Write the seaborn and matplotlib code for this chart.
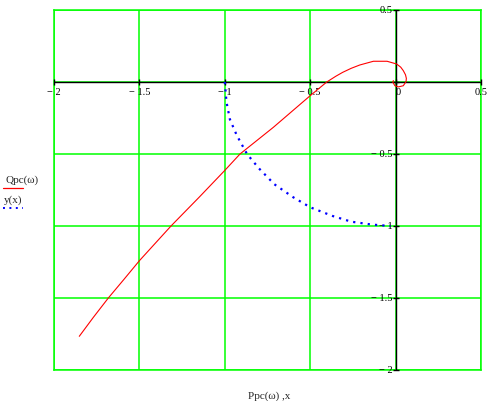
"""
Mathcad-style Nyquist plot: Qpc(w) vs Ppc(w) with the unit circle y(x).
"""

import matplotlib
matplotlib.use("Agg")
import matplotlib.pyplot as plt
import matplotlib.transforms as mtransforms
from matplotlib.lines import Line2D
import pandas as pd
import seaborn as sns

# Qpc(w) vs Ppc(w)
ppc = [-1.852, -1.77, -1.682, -1.59, -1.5, -1.315, -1.15, -1.0, -0.911,
       -0.716, -0.5, -0.403, -0.35, -0.31, -0.26, -0.21, -0.13, -0.05,
       0.006, 0.03, 0.045, 0.058, 0.063, 0.061, 0.045, 0.016, -0.004,
       -0.017, -0.013]
qpc = [-1.766, -1.635, -1.5, -1.37, -1.241, -1.0, -0.8, -0.614, -0.5,
       -0.315, -0.095, 0.0, 0.04, 0.067, 0.095, 0.118, 0.144, 0.144,
       0.125, 0.103, 0.079, 0.05, 0.025, 0.002, -0.026, -0.034, -0.026,
       0.0, 0.01]

# y(x), dotted blue quarter arc
circ_x = [-1.0, -0.99, -0.97, -0.93, -0.87, -0.8, -0.71, -0.6, -0.5,
          -0.37, -0.26, -0.14, -0.03]
circ_y = [0.0, -0.14, -0.26, -0.37, -0.5, -0.6, -0.71, -0.8, -0.87,
          -0.93, -0.97, -0.99, -1.0]

x_ticks = [-2.0, -1.5, -1.0, -0.5, 0.0, 0.5]
y_ticks = [0.5, 0.0, -0.5, -1.0, -1.5, -2.0]

GREEN = "#00ff00"
RED = "#ff0000"
BLUE = "#0000ff"
FONT = "Liberation Serif"


def fmt(v):
    """Mathcad-ish tick label."""
    if v == 0:
        return "0"
    s = f"{abs(v):g}"
    return f"\u2212 {s}" if v < 0 else s


sns.set_style("white")
plt.rcParams["font.family"] = [FONT, "DejaVu Sans"]

fig = plt.figure(figsize=(4.97, 4.02), dpi=100)
ax = fig.add_axes([54 / 497, (402 - 371) / 402, 427 / 497, 360 / 402])

df_q = pd.DataFrame({"P": ppc, "Q": qpc})
df_c = pd.DataFrame({"x": circ_x, "y": circ_y})

sns.lineplot(data=df_q, x="P", y="Q", sort=False, estimator=None,
             color=RED, lw=0.8, ax=ax, zorder=4)
sns.lineplot(data=df_c, x="x", y="y", sort=False, estimator=None,
             color=BLUE, lw=1.6, ax=ax, zorder=4)
ax.lines[-1].set_linestyle((0, (1, 2.3)))

ax.set_xlim(x_ticks[0], x_ticks[-1])
ax.set_ylim(y_ticks[-1], y_ticks[0])
ax.set_xticks(x_ticks)
ax.set_yticks(y_ticks)
ax.grid(True, color=GREEN, lw=1.1)
ax.tick_params(length=0, labelbottom=False, labelleft=False)
ax.set_xlabel("")
ax.set_ylabel("")
for sp in ax.spines.values():
    sp.set_color(GREEN)
    sp.set_linewidth(1.1)

# zero axes
ax.axhline(0, color="black", lw=1, zorder=3)
ax.axvline(0, color="black", lw=1, zorder=3)

# tick marks on the zero axes
ax.plot(x_ticks, [0] * len(x_ticks), ls="none", marker="|", ms=4.5,
        mew=1, color="black", zorder=3, clip_on=False)
ax.plot([0] * len(y_ticks), y_ticks, ls="none", marker="_", ms=4.5,
        mew=1, color="black", zorder=3, clip_on=False)

# tick labels placed along the axes, Mathcad style
below = mtransforms.offset_copy(ax.transData, fig=fig, x=0, y=-3.5, units="points")
left = mtransforms.offset_copy(ax.transData, fig=fig, x=-2.5, y=0, units="points")
for v in x_ticks:
    ha = "left" if v == 0 else "center"
    ax.text(v, 0, fmt(v), transform=below, ha=ha, va="top",
            fontsize=7.5, color="black", clip_on=False)
for v in y_ticks:
    if v == 0:
        continue
    ax.text(0, v, fmt(v), transform=left, ha="right", va="center",
            fontsize=7.5, color="black", clip_on=False)

# axis label and left-side legend
fig.text(269 / 497, 1 - 396 / 402, "Ppc(\u03c9) ,x", ha="center",
         va="center", fontsize=8)
fig.text(6 / 497, 1 - 180 / 402, "Qpc(\u03c9)", ha="left", va="center",
         fontsize=8)
fig.add_artist(Line2D([3 / 497, 23 / 497], [1 - 189 / 402, 1 - 189 / 402],
                      color=RED, lw=0.9, transform=fig.transFigure))
fig.text(4 / 497, 1 - 200 / 402, "y(x)", ha="left", va="center",
         fontsize=8)
fig.add_artist(Line2D([3 / 497, 23 / 497], [1 - 209 / 402, 1 - 209 / 402],
                      color=BLUE, lw=1.4, ls=(0, (1, 2.3)),
                      transform=fig.transFigure))

fig.savefig("out.png", dpi=100)
plt.close("all")
